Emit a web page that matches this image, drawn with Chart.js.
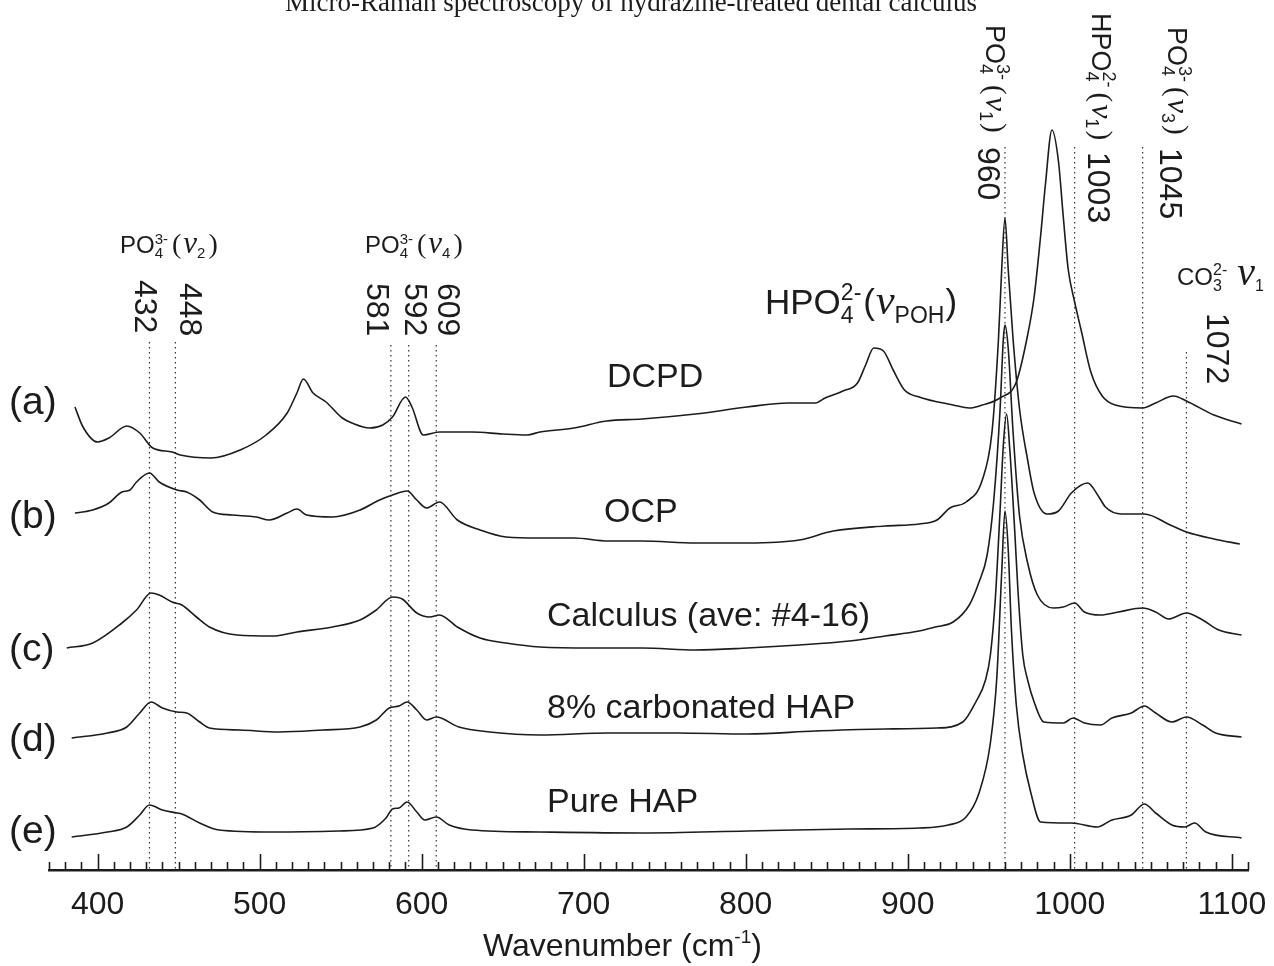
<!DOCTYPE html>
<html>
<head>
<meta charset="utf-8">
<script src="https://cdn.jsdelivr.net/npm/chart.js@4.4.0/dist/chart.umd.min.js"></script>
<style>
  body { margin: 0; background: #fff; }
  canvas { display: block; }
</style>
</head>
<body>
<canvas id="raman" width="1274" height="966"></canvas>
<script>
// spectra (wavenumber in cm-1, intensity in arbitrary offset units)
const dcpdWn = [386,391,400,407,418,426,434,446,451,470,488,504,517,523,527,533,541,551,557,568,576,582,590,594,601,611,631,650,665,673,694,714,736,769,801,826,843,849,860,869,874,879,885,891,898,907,928,938,946,957,967,974,978,982,985,989,993,996,999,1003,1007,1013,1020,1028,1045,1053,1064,1072,1089,1106];
const dcpdInt = [463,443,428,432,444,437,422,418,415,412,420,435,457,477,491,477,468,452,447,442,445,453,473,463,435,438,438,436,435,438,442,449,451,456,463,467,467,472,479,487,505,522,519,500,480,473,465,462,465,472,488,535,573,634,686,740,709,653,601,568,540,498,474,465,462,467,474,469,455,446];

const ocpWn = [386,397,407,415,420,424,432,438,449,455,463,471,483,498,506,517,523,529,545,562,574,582,591,597,603,611,622,636,652,673,694,715,736,769,801,833,854,886,907,918,926,936,946,952,956,958,960,962,965,969,974,978,986,993,1001,1011,1018,1022,1032,1046,1062,1072,1089,1105];
const ocpInt = [357,360,367,378,380,388,397,388,380,378,370,358,355,353,350,357,361,355,353,360,370,375,379,370,362,368,350,340,333,332,332,329,329,327,327,330,339,344,346,350,362,368,390,438,531,601,652,601,531,461,410,377,356,359,377,387,373,363,356,356,345,338,331,326];

const calcWn = [381,397,415,424,433,438,446,452,461,469,486,508,523,545,562,572,582,588,597,605,611,622,636,652,673,705,736,769,801,833,864,886,907,917,928,938,944,949,953,957,959,960,962,965,969,974,980,990,996,1003,1009,1019,1030,1045,1053,1061,1072,1082,1092,1106];
const calcInt = [222,227,247,260,277,275,268,265,253,243,235,234,238,243,250,260,273,271,257,253,255,243,232,227,223,222,222,220,222,225,229,234,239,243,248,265,288,315,368,461,531,545,522,438,354,307,275,262,263,267,258,255,258,262,258,251,257,250,240,235];

const carbWn = [384,406,418,426,433,440,449,455,463,469,488,512,539,562,572,580,586,591,597,603,609,623,642,673,715,758,801,843,886,918,934,942,948,951,954,957,959,961,963,966,968,971,974,978,984,996,1002,1009,1019,1026,1038,1046,1053,1063,1072,1082,1090,1106];
const carbInt = [132,137,143,157,168,162,158,157,148,142,140,138,140,143,150,162,164,168,160,150,153,143,138,135,137,137,136,139,141,142,148,168,190,215,270,360,425,456,420,340,280,215,190,168,148,147,152,147,145,152,157,164,157,148,153,145,137,133];

const hapWn = [384,406,418,426,432,440,449,452,463,475,508,549,570,578,582,586,591,597,602,609,617,631,673,736,801,864,907,925,936,944,951,955,958,960,962,964,967,971,976,982,1001,1017,1026,1038,1046,1053,1063,1071,1077,1084,1106];
const hapInt = [33,38,43,55,65,60,57,56,47,40,38,39,42,52,61,62,68,58,50,53,45,40,38,37,39,41,42,45,53,77,127,193,298,359,321,240,165,115,77,48,47,43,50,55,66,57,45,43,47,38,32];

// marked band positions and how high their dotted guide lines reach
const bandPos = [432, 448, 581, 592, 609, 960, 1003, 1045, 1072];
const bandTop = [528, 528, 525, 525, 525, 723, 723, 723, 518];

const sampleNames = ['DCPD', 'OCP', 'Calculus (ave: #4-16)', '8% carbonated HAP', 'Pure HAP'];
const traceTags = ['(a)', '(b)', '(c)', '(d)', '(e)'];

const SANS = '"Liberation Sans", Arial, sans-serif';
const SERIF = '"Liberation Serif", "Times New Roman", serif';

const zip = (xs, ys) => xs.map((x, i) => ({ x: x, y: ys[i] }));

const traceSet = (wn, val) => ({
    data: zip(wn, val),
    borderColor: '#1c1c1c',
    borderWidth: 1.6,
    pointRadius: 0,
    fill: false,
    cubicInterpolationMode: 'monotone'
});

const guideSets = bandPos.map((p, i) => ({
    data: [{ x: p, y: bandTop[i] }, { x: p, y: 0 }],
    borderColor: '#333',
    borderWidth: 1.2,
    borderDash: [1.5, 3.5],
    pointRadius: 0,
    fill: false
}));

// draw a run of text pieces (sub/superscripts), optionally turned 90 deg clockwise
function rich(ctx, x, y, parts, turned) {
    ctx.save();
    ctx.translate(x, y);
    if (turned) ctx.rotate(Math.PI / 2);
    ctx.textAlign = 'left';
    ctx.textBaseline = 'alphabetic';
    let cx = 0;
    for (const p of parts) {
        ctx.font = p.f;
        ctx.fillText(p.t, cx, p.dy || 0);
        if (p.adv !== false) cx += ctx.measureText(p.t).width + (p.gap || 0);
    }
    ctx.restore();
}

const small = (s) => s + 'px ' + SANS;
const nu = (s) => 'italic ' + s + 'px ' + SERIF;

const annotations = {
    id: 'annotations',
    afterDraw: (chart) => {
        const { ctx, chartArea, scales } = chart;
        const xs = scales.x;
        ctx.save();
        ctx.fillStyle = '#1c1c1c';
        ctx.strokeStyle = '#1c1c1c';

        // inward tick marks every 10 cm-1
        ctx.lineWidth = 1.6;
        for (let v = 370; v <= 1110; v += 10) {
            const px = Math.round(xs.getPixelForValue(v)) + 0.5;
            const len = v % 100 === 0 ? 16 : 8;
            ctx.beginPath();
            ctx.moveTo(px, chartArea.bottom);
            ctx.lineTo(px, chartArea.bottom - len);
            ctx.stroke();
        }

        // clipped title at the very top
        ctx.font = '27px ' + SERIF;
        ctx.textAlign = 'center';
        ctx.textBaseline = 'alphabetic';
        ctx.fillText('Micro-Raman spectroscopy of hydrazine-treated dental calculus', 631, 11);

        // axis title
        rich(ctx, 483, 956, [
            { t: 'Wavenumber (cm', f: small(32) },
            { t: '-1', f: small(19), dy: -13 },
            { t: ')', f: small(32) }
        ]);

        // trace tags on the left
        ctx.font = '39px ' + SANS;
        ctx.textAlign = 'left';
        ctx.textBaseline = 'middle';
        const tagY = [403, 517, 650, 740, 832];
        traceTags.forEach((t, i) => ctx.fillText(t, 9, tagY[i]));

        // sample names
        ctx.font = '34px ' + SANS;
        const nameX = [607, 604, 547, 547, 547];
        const nameY = [378, 513, 617, 709, 803];
        sampleNames.forEach((t, i) => ctx.fillText(t, nameX[i], nameY[i]));

        // band assignments, horizontal
        const flatHead = (mode) => [
            { t: 'PO', f: small(24) },
            { t: '4', f: small(15), dy: 5, adv: false },
            { t: '3-', f: small(15), dy: -9, gap: 4 },
            { t: '(', f: '28px ' + SERIF, gap: 2 },
            { t: '\u03BD', f: nu(31) },
            { t: mode, f: small(15), dy: 5, gap: 3 },
            { t: ')', f: '28px ' + SERIF }
        ];
        rich(ctx, 120, 253, flatHead('2'));
        rich(ctx, 365, 253, flatHead('4'));
        rich(ctx, 765, 314, [
            { t: 'HPO', f: small(35) },
            { t: '4', f: small(23), dy: 9, adv: false },
            { t: '2-', f: small(23), dy: -14, gap: 2 },
            { t: '(', f: small(35), gap: 1 },
            { t: '\u03BD', f: nu(42) },
            { t: 'POH', f: small(23), dy: 9, gap: 1 },
            { t: ')', f: small(35) }
        ]);
        rich(ctx, 1177, 285, [
            { t: 'CO', f: small(24) },
            { t: '3', f: small(16), dy: 6, adv: false },
            { t: '2-', f: small(16), dy: -10, gap: 10 },
            { t: '\u03BD', f: nu(40) },
            { t: '1', f: small(16), dy: 6 }
        ]);

        // band assignments, turned
        const turnedHead = (pre, charge, mode) => [
            { t: pre, f: small(27) },
            { t: '4', f: small(18), dy: 6, adv: false },
            { t: charge, f: small(18), dy: -11, gap: 5 },
            { t: '(', f: '29px ' + SERIF, gap: 2 },
            { t: '\u03BD', f: nu(32) },
            { t: mode, f: small(18), dy: 6, gap: 2 },
            { t: ')', f: '29px ' + SERIF }
        ];
        rich(ctx, 986, 25, turnedHead('PO', '3-', '1'), true);
        rich(ctx, 1092, 13, turnedHead('HPO', '2-', '1'), true);
        rich(ctx, 1168, 27, turnedHead('PO', '3-', '3'), true);

        // band positions, turned
        const numFont = '32px ' + SANS;
        const numBase = [135, 180, 367, 405, 438, 978, 1088, 1160, 1207];
        const numTop = [280, 283, 283, 283, 283, 147, 152, 148, 313];
        bandPos.forEach((p, i) => {
            rich(ctx, numBase[i], numTop[i], [{ t: String(p), f: numFont }], true);
        });

        ctx.restore();
    }
};

new Chart(document.getElementById('raman').getContext('2d'), {
    type: 'line',
    data: {
        datasets: [
            traceSet(dcpdWn, dcpdInt),
            traceSet(ocpWn, ocpInt),
            traceSet(calcWn, calcInt),
            traceSet(carbWn, carbInt),
            traceSet(hapWn, hapInt)
        ].concat(guideSets)
    },
    options: {
        responsive: false,
        animation: false,
        layout: { padding: { left: 49, right: 26, top: 0, bottom: 0 } },
        plugins: {
            legend: { display: false },
            tooltip: { enabled: false }
        },
        scales: {
            x: {
                type: 'linear',
                min: 370,
                max: 1110,
                grid: { display: false, drawTicks: false },
                border: { display: true, color: '#1c1c1c', width: 2.5 },
                ticks: {
                    stepSize: 100,
                    includeBounds: false,
                    maxRotation: 0,
                    padding: 16,
                    color: '#1c1c1c',
                    font: { family: SANS, size: 32 },
                    callback: (v) => String(v)
                },
                afterFit: (scale) => {
                    scale.height = 96;
                    scale.paddingLeft = 0;
                    scale.paddingRight = 0;
                }
            },
            y: {
                display: false,
                min: 0,
                max: 870
            }
        }
    },
    plugins: [annotations]
});
</script>
</body>
</html>
